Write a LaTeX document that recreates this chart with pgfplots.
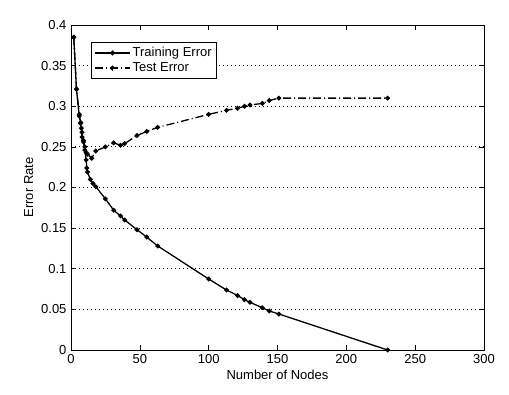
\documentclass[border=0pt]{standalone}
\usepackage{fontspec}
\setmainfont{Liberation Sans}
\usepackage{pgfplots}
\pgfplotsset{compat=1.18}
\begin{document}
\fontsize{13}{15}\selectfont
\begin{tikzpicture}
\begin{axis}[
  scale only axis,
  width=413pt, height=325pt,
  xmin=0, xmax=300, ymin=0, ymax=0.4,
  xtick={0,50,...,300},
  ytick={0,0.05,...,0.4},
  yticklabels={0,0.05,0.1,0.15,0.2,0.25,0.3,0.35,0.4},
  /pgf/number format/assume math mode=true,
  tick label style={font=\fontsize{13}{15}\selectfont},
  label style={font=\fontsize{13}{15}\selectfont},
  tick align=inside,
  major tick length=5pt,
  tick style={black, line width=0.6pt},
  axis line style={line width=0.8pt},
  ymajorgrids,
  major grid style={black, line width=0.8pt, dash pattern=on 0.8pt off 3.2pt},
  xlabel={Number of Nodes},
  ylabel={Error Rate},
  xlabel style={yshift=3pt},
  ylabel style={yshift=-1pt},
  clip=false,
  legend cell align=left,
  legend style={at={(0.0484,0.948)}, anchor=north west, draw=black, line width=0.8pt,
    inner xsep=3pt, inner ysep=3pt, row sep=0pt, font=\fontsize{13}{15}\selectfont},
  legend image code/.code={\draw[#1] (0pt,0pt) -- (35pt,0pt); \fill (17.5pt,0pt) circle (1.8pt);},
]
\addplot[black, line width=1.3pt, mark=*, mark size=1.7pt] coordinates {
(2,0.385)(4,0.321)(6,0.288)(7,0.280)(7.5,0.273)(8,0.262)(9,0.256)(10,0.246)(11,0.234)(11.5,0.224)(12,0.219)(14,0.210)(16,0.205)(18,0.201)(25,0.186)(31,0.172)(36,0.165)(39,0.160)(48,0.148)(55,0.139)(63,0.128)(100,0.0874)(113,0.0738)(121,0.067)(126,0.062)(130,0.0587)(139,0.052)(144,0.048)(151,0.0443)(230,0.0)
};
\addlegendentry{Training Error}
\addplot[black, line width=1.3pt, dash pattern=on 8pt off 3pt on 1pt off 3pt, mark=*, mark size=1.7pt, mark options={solid}] coordinates {
(2,0.385)(4,0.321)(6,0.290)(7,0.279)(8,0.268)(9,0.258)(10,0.250)(11,0.243)(12,0.241)(15,0.236)(18,0.245)(25,0.250)(31,0.255)(36,0.252)(39,0.254)(48,0.264)(55,0.269)(63,0.274)(100,0.290)(113,0.295)(121,0.2975)(126,0.300)(130,0.3015)(139,0.3035)(144,0.307)(151,0.310)(230,0.310)
};
\addlegendentry{Test Error}
\path ([xshift=-71pt,yshift=-44pt]rel axis cs:0,0) rectangle ([xshift=25pt,yshift=25pt]rel axis cs:1,1);
\end{axis}
\end{tikzpicture}
\end{document}
